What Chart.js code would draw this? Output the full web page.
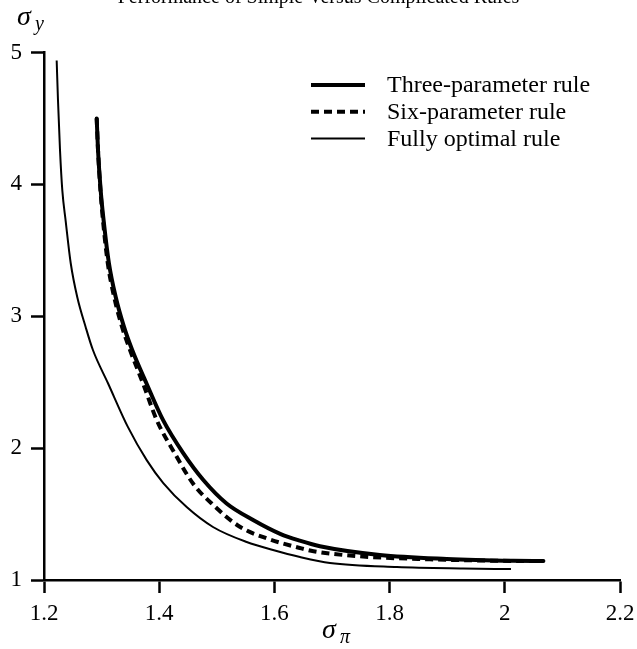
<!DOCTYPE html>
<html>
<head>
<meta charset="utf-8">
<script src="https://cdn.jsdelivr.net/npm/chart.js@4.4.0/dist/chart.umd.min.js"></script>
<style>
  html, body { margin: 0; padding: 0; background: #fff; }
  #wrap { width: 637px; height: 649px; }
</style>
</head>
<body>
<div id="wrap"><canvas id="chart"></canvas></div>
<script>
// values (x = sigma_pi, y = sigma_y)
const threeX = [1.2915, 1.2938, 1.2984, 1.3042, 1.3128, 1.3245, 1.3389, 1.3533, 1.378, 1.407, 1.442, 1.4766, 1.517, 1.563, 1.61, 1.644, 1.679, 1.783, 1.899, 2.015, 2.067];
const threeY = [4.50, 4.258, 3.955, 3.70, 3.40, 3.146, 2.919, 2.742, 2.49, 2.21, 1.96, 1.758, 1.58, 1.455, 1.35, 1.298, 1.256, 1.19, 1.16, 1.146, 1.144];

const sixX = [1.2915, 1.2938, 1.2980, 1.3030, 1.3108, 1.3218, 1.3355, 1.3495, 1.372, 1.396, 1.427, 1.459, 1.494, 1.540, 1.587, 1.644, 1.668, 1.754, 1.87, 1.986, 2.067];
const sixY = [4.50, 4.258, 3.955, 3.70, 3.40, 3.146, 2.919, 2.742, 2.49, 2.21, 1.96, 1.73, 1.568, 1.404, 1.315, 1.243, 1.218, 1.178, 1.157, 1.146, 1.144];

const fullX = [1.2220, 1.2243, 1.2278, 1.2318, 1.2377, 1.2464, 1.2578, 1.2724, 1.2851, 1.3111, 1.3458, 1.3783, 1.4071, 1.4477, 1.4934, 1.5519, 1.5976, 1.6444, 1.6965, 1.8128, 1.9274, 2.0108];
const fullY = [4.939, 4.636, 4.258, 3.955, 3.720, 3.402, 3.144, 2.917, 2.742, 2.492, 2.159, 1.909, 1.735, 1.553, 1.402, 1.288, 1.227, 1.174, 1.129, 1.098, 1.087, 1.083];

const seriesNames = ["Three-parameter rule", "Six-parameter rule", "Fully optimal rule"];
const xTickLabels = ["1.2", "1.4", "1.6", "1.8", "2", "2.2"];
const yTickLabels = ["1", "2", "3", "4", "5"];

const SERIF = '"Liberation Serif", "Times New Roman", serif';

function pts(xs, ys) {
    return xs.map((x, i) => ({ x: x, y: ys[i] }));
}

// sigma labels and the legend, drawn on top of the chart
const extras = {
    id: "extras",
    afterDraw(chart) {
        const ctx = chart.ctx;
        const area = chart.chartArea;
        ctx.save();
        ctx.fillStyle = "#000";
        ctx.strokeStyle = "#000";
        ctx.textBaseline = "alphabetic";
        ctx.textAlign = "left";

        // y axis label
        ctx.font = "italic 28px " + SERIF;
        ctx.fillText("σ", 17, 25);
        ctx.font = "italic 20px " + SERIF;
        ctx.fillText("y", 35, 30);

        // x axis label
        const cx = (area.left + area.right) / 2;
        ctx.font = "italic 28px " + SERIF;
        ctx.fillText("σ", cx - 10, 638);
        ctx.font = "italic 20px " + SERIF;
        ctx.fillText("π", cx + 8, 643);

        // legend
        chart.data.datasets.forEach((ds, i) => {
            const y = 85 + i * 26.7;
            ctx.lineWidth = ds.borderWidth;
            ctx.setLineDash(ds.borderDash || []);
            ctx.beginPath();
            ctx.moveTo(311, y);
            ctx.lineTo(365, y);
            ctx.stroke();
            ctx.setLineDash([]);
            ctx.font = "24px " + SERIF;
            ctx.textBaseline = "middle";
            ctx.fillText(ds.label, 387, y + 1);
            ctx.textBaseline = "alphabetic";
        });
        ctx.restore();
    }
};

const ctx = document.getElementById("chart");
const chart = new Chart(ctx, {
    type: "line",
    data: {
        datasets: [
            {
                label: seriesNames[0],
                data: pts(threeX, threeY),
                borderColor: "#000",
                borderWidth: 4,
                pointRadius: 0,
                cubicInterpolationMode: "monotone",
                borderCapStyle: "round",
            },
            {
                label: seriesNames[1],
                data: pts(sixX, sixY),
                borderColor: "#000",
                borderWidth: 4,
                borderDash: [8, 5],
                pointRadius: 0,
                cubicInterpolationMode: "monotone",
            },
            {
                label: seriesNames[2],
                data: pts(fullX, fullY),
                borderColor: "#000",
                borderWidth: 2,
                pointRadius: 0,
                cubicInterpolationMode: "monotone",
            },
        ],
    },
    options: {
        responsive: true,
        maintainAspectRatio: false,
        animation: false,
        layout: { padding: { left: 0, right: 0, top: 0, bottom: 0 } },
        plugins: {
            legend: { display: false },
            tooltip: { enabled: false },
            title: {
                display: true,
                text: "Performance of Simple Versus Complicated Rules",
                color: "#000",
                font: { family: SERIF, size: 20, weight: "normal" },
                padding: { top: -14, bottom: 42.5 },
            },
        },
        scales: {
            x: {
                type: "linear",
                min: 1.2,
                max: 2.2,
                afterBuildTicks: (s) => {
                    s.ticks = xTickLabels.map((t) => ({ value: parseFloat(t) }));
                },
                afterFit: (s) => { s.height = 69; s.paddingRight = 17; },
                ticks: {
                    color: "#000",
                    font: { family: SERIF, size: 23 },
                    padding: 7,
                    maxRotation: 0,
                    autoSkip: false,
                    callback: (v, i) => xTickLabels[i],
                },
                grid: {
                    drawOnChartArea: false,
                    drawTicks: true,
                    tickLength: 13,
                    tickWidth: 2.5,
                    tickColor: "#000",
                },
                border: { display: true, color: "#000", width: 2.5 },
            },
            y: {
                type: "linear",
                min: 1,
                max: 5,
                afterBuildTicks: (s) => {
                    s.ticks = yTickLabels.map((t) => ({ value: parseFloat(t) }));
                },
                afterFit: (s) => { s.width = 44; },
                ticks: {
                    color: "#000",
                    font: { family: SERIF, size: 23 },
                    padding: 9,
                    autoSkip: false,
                    callback: (v, i) => yTickLabels[i],
                },
                grid: {
                    drawOnChartArea: false,
                    drawTicks: true,
                    tickLength: 13,
                    tickWidth: 2.5,
                    tickColor: "#000",
                },
                border: { display: true, color: "#000", width: 2.5 },
            },
        },
    },
    plugins: [extras],
});
</script>
</body>
</html>
